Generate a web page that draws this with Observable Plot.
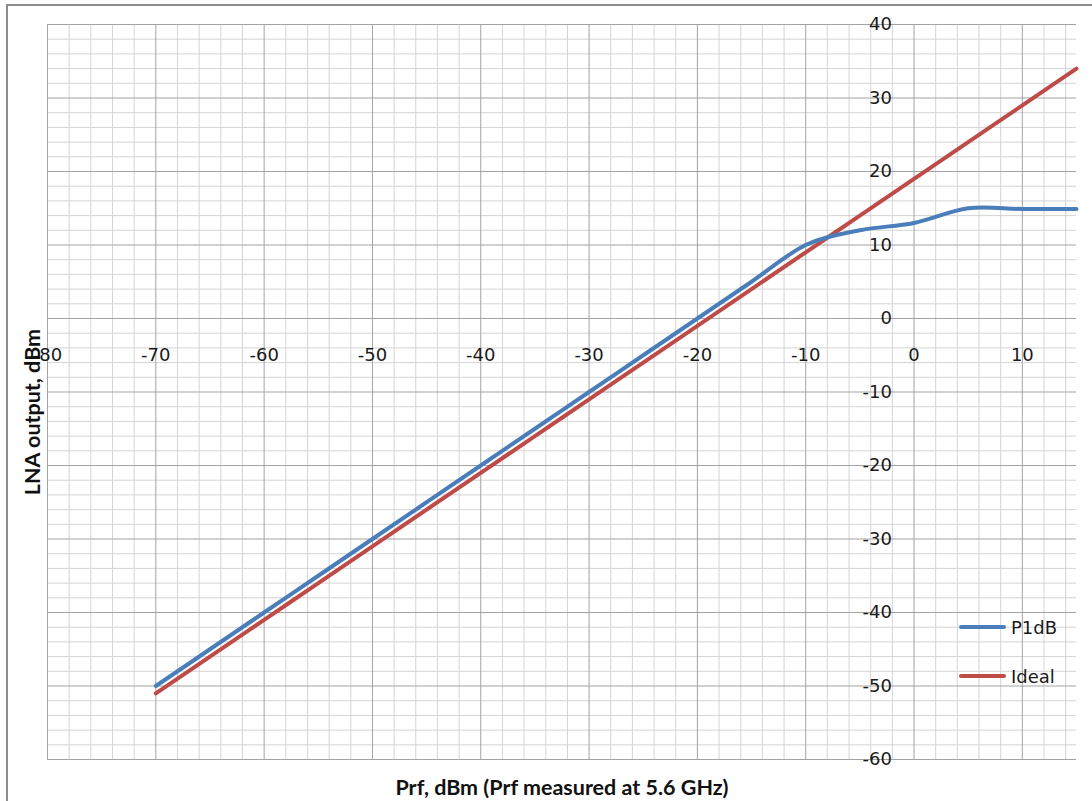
<!DOCTYPE html>
<html>
<head>
<meta charset="utf-8">
<script src="https://cdn.jsdelivr.net/npm/d3@7"></script>
<script src="https://cdn.jsdelivr.net/npm/@observablehq/plot@0.6"></script>
<style>
  html, body { margin: 0; padding: 0; background: #fff; }
  #wrap { position: relative; width: 1092px; height: 801px; overflow: hidden; }
  #border { position: absolute; left: 6px; top: 4px; width: 2000px; height: 2000px;
            border-left: 2px solid #8c8c8c; border-top: 2px solid #8c8c8c; box-sizing: border-box; }
  #chart { position: absolute; left: 0; top: 0; }
  .legend { position: absolute; font-family: "DejaVu Sans", sans-serif; font-size: 18px; color: #1a1a1a; }
  .legend .row { position: absolute; left: 0; display: flex; align-items: center; white-space: nowrap; }
  .legend .sw { width: 47px; height: 4px; border-radius: 2px; margin-right: 5px; }
</style>
</head>
<body>
<div id="wrap">
  <div id="border"></div>
  <div id="chart"></div>
  <div class="legend" id="legend" style="left:959px; top:0px;"></div>
</div>
<script>
// Input power sweep (dBm) and measured / ideal LNA output (dBm)
const prf   = [-70, -65, -60, -55, -50, -45, -40, -35, -30, -25, -20, -15, -10, -5, 0, 5, 10, 15];
const p1db  = [-50, -45, -40, -35, -30, -25, -20, -15, -10, -5, 0, 5, 10, 12, 13, 15, 14.9, 14.9];
const ideal = [-51, -46, -41, -36, -31, -26, -21, -16, -11, -6, -1, 4, 9, 14, 19, 24, 29, 34];

const seriesNames  = ["P1dB", "Ideal"];
const seriesColors = ["#4a7ebb", "#be4b48"];

// Axis tick labels
const xTickLabels = [-80, -70, -60, -50, -40, -30, -20, -10, 0, 10];
const yTickLabels = [-60, -50, -40, -30, -20, -10, 0, 10, 20, 30, 40];

const xTitle = "Prf, dBm (Prf measured at 5.6 GHz)";
const yTitle = "LNA output, dBm";

const rows = prf.map((x, i) => ({x, p1db: p1db[i], ideal: ideal[i]}));

// Minor grid every 2 dB, major every 10 dB
const xMinor = d3.range(-80, 15, 2).filter(v => v % 10 !== 0);
const yMinor = d3.range(-60, 41, 2).filter(v => v % 10 !== 0);

const chart = Plot.plot({
  width: 1092,
  height: 801,
  marginLeft: 47,
  marginRight: 16,
  marginTop: 24,
  marginBottom: 42,
  x: {domain: [-80, 15], axis: null},
  y: {domain: [-60, 40], axis: null},
  style: {fontFamily: "DejaVu Sans, sans-serif", fontSize: "18px", background: "transparent", overflow: "visible"},
  marks: [
    Plot.gridX(xMinor, {stroke: "#d4d4d4", strokeOpacity: 1}),
    Plot.gridY(yMinor, {stroke: "#d4d4d4", strokeOpacity: 1}),
    Plot.gridX(xTickLabels, {stroke: "#a3a3a3", strokeOpacity: 1}),
    Plot.gridY(yTickLabels, {stroke: "#a3a3a3", strokeOpacity: 1}),
    Plot.line(rows, {x: "x", y: "ideal", stroke: seriesColors[1], strokeWidth: 4, curve: "cardinal"}),
    Plot.line(rows, {x: "x", y: "p1db", stroke: seriesColors[0], strokeWidth: 4, curve: "cardinal"}),
    // x tick labels sit below the y = 0 axis line
    Plot.text(xTickLabels, {x: d => d, y: () => 0, dy: 37, text: d => String(d), fill: "#1a1a1a", fontSize: 18}),
    // y tick labels sit left of the x = 0 axis line
    Plot.text(yTickLabels, {x: () => 0, y: d => d, dx: -22, textAnchor: "end", text: d => String(d), fill: "#1a1a1a", fontSize: 18}),
    Plot.text([xTitle], {frameAnchor: "bottom", dy: 29, lineAnchor: "middle", fontFamily: "Lato, sans-serif", fontWeight: "bold", fontSize: 21.5, fill: "#111"}),
    Plot.text([yTitle], {frameAnchor: "left", dx: -14, dy: 20, rotate: -90, textAnchor: "middle", lineAnchor: "middle", fontFamily: "Lato, sans-serif", fontWeight: "bold", fontSize: 21.5, fill: "#111"})
  ]
});
document.getElementById("chart").appendChild(chart);

// Legend to the lower right of the plot
const legend = document.getElementById("legend");
const legendTops = [627, 676];
seriesNames.forEach((name, i) => {
  const row = document.createElement("div");
  row.className = "row";
  row.style.top = (legendTops[i] - 11) + "px";
  row.style.height = "22px";
  const sw = document.createElement("div");
  sw.className = "sw";
  sw.style.background = seriesColors[i];
  const label = document.createElement("span");
  label.textContent = name;
  row.appendChild(sw);
  row.appendChild(label);
  legend.appendChild(row);
});
</script>
</body>
</html>
